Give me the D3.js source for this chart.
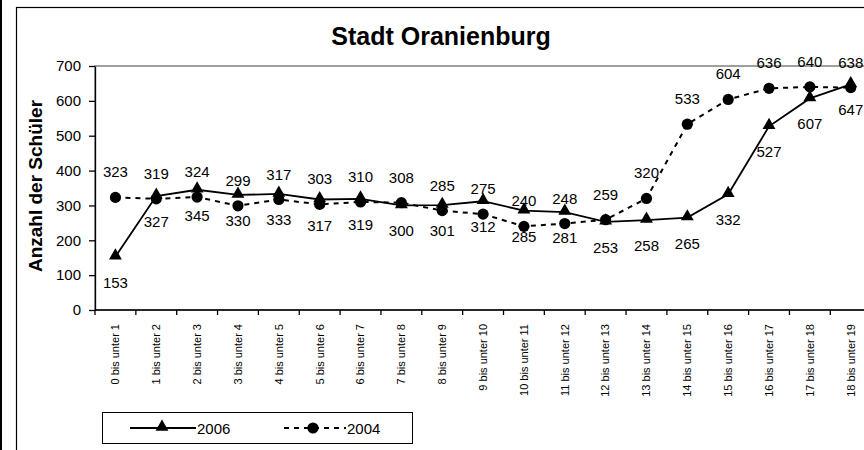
<!DOCTYPE html>
<html>
<head>
<meta charset="utf-8">
<script src="https://cdn.jsdelivr.net/npm/d3@7"></script>
<style>
  body { margin: 0; background: #fff; }
  text { font-family: "Liberation Sans", Arial, sans-serif; }
</style>
</head>
<body>
<script>
// age groups on the x axis
var categories = ["0 bis unter 1", "1 bis unter 2", "2 bis unter 3", "3 bis unter 4",
    "4 bis unter 5", "5 bis unter 6", "6 bis unter 7", "7 bis unter 8", "8 bis unter 9",
    "9 bis unter 10", "10 bis unter 11", "11 bis unter 12", "12 bis unter 13",
    "13 bis unter 14", "14 bis unter 15", "15 bis unter 16", "16 bis unter 17",
    "17 bis unter 18", "18 bis unter 19"];

// number of pupils per age group
var values2006 = [153, 327, 345, 330, 333, 317, 319, 300, 301, 312, 285, 281, 253, 258, 265, 332, 527, 607, 647];
var values2004 = [323, 319, 324, 299, 317, 303, 310, 308, 285, 275, 240, 248, 259, 320, 533, 604, 636, 640, 638];

var yTicks = [0, 100, 200, 300, 400, 500, 600, 700];

var width = 864,
    height = 450;

// plot area (right side runs past the window, like the picture)
var plotLeft = 95, plotTop = 66, plotBottom = 310,
    step = 40.85,
    plotRight = plotLeft + step * categories.length;

var svg = d3.select("body").append("svg")
    .attr("width", width)
    .attr("height", height);

svg.append("rect").attr("width", width).attr("height", height).attr("fill", "#fff");

// black strip at the very left and the chart frame
svg.append("rect").attr("x", 0).attr("y", 0).attr("width", 2).attr("height", height).attr("fill", "#000");
svg.append("rect")
    .attr("x", 16.5).attr("y", 7.5)
    .attr("width", width).attr("height", height)
    .attr("fill", "none").attr("stroke", "#000").attr("stroke-width", 1.2);

var x = d3.scaleBand().domain(categories).range([plotLeft, plotRight]);
var y = d3.scaleLinear().domain([0, 700]).range([plotBottom, plotTop]);

// plot area border (only the top is visible)
svg.append("rect")
    .attr("x", plotLeft).attr("y", plotTop)
    .attr("width", plotRight - plotLeft).attr("height", plotBottom - plotTop)
    .attr("fill", "none").attr("stroke", "#808080").attr("stroke-width", 1.5);

// title
svg.append("text")
    .attr("x", 441).attr("y", 45)
    .attr("text-anchor", "middle")
    .style("font-size", "25px").style("font-weight", "bold")
    .text("Stadt Oranienburg");

// y axis title
svg.append("text")
    .attr("transform", "translate(42,186) rotate(-90)")
    .attr("text-anchor", "middle")
    .style("font-size", "19px").style("font-weight", "bold")
    .text("Anzahl der Schüler");

// y axis
var yAxis = svg.append("g")
    .attr("transform", "translate(" + plotLeft + ",0)")
    .call(d3.axisLeft(y).tickValues(yTicks).tickSize(6).tickPadding(8).tickSizeOuter(0));
yAxis.selectAll("text").style("font-size", "15px").attr("fill", "#000");
yAxis.selectAll("line, path").attr("stroke", "#000").attr("stroke-width", 1.3);

// x axis: ticks sit between the categories
var xAxis = svg.append("g").attr("transform", "translate(0," + plotBottom + ")");
xAxis.append("line")
    .attr("x1", plotLeft).attr("x2", plotRight)
    .attr("stroke", "#000").attr("stroke-width", 1.3);
xAxis.selectAll(".tick")
    .data(categories)
    .enter().append("line")
    .attr("x1", function(d) { return x(d); })
    .attr("x2", function(d) { return x(d); })
    .attr("y1", 0).attr("y2", 5)
    .attr("stroke", "#000").attr("stroke-width", 1.3);
xAxis.selectAll(".lbl")
    .data(categories)
    .enter().append("text")
    .attr("transform", function(d) {
        return "translate(" + (x(d) + x.bandwidth() / 2) + ",14) rotate(-90)";
    })
    .attr("dy", "0.35em")
    .attr("text-anchor", "end")
    .style("font-size", "11px")
    .text(function(d) { return d; });

function cx(i) { return x(categories[i]) + x.bandwidth() / 2; }

var line = d3.line()
    .x(function(d, i) { return cx(i); })
    .y(function(d) { return y(d); });

// 2004: dashed line with circles, labels above
svg.append("path")
    .datum(values2004)
    .attr("d", line)
    .attr("fill", "none").attr("stroke", "#000")
    .attr("stroke-width", 2).attr("stroke-dasharray", "5,5");

// 2006: solid line with triangles, labels below
svg.append("path")
    .datum(values2006)
    .attr("d", line)
    .attr("fill", "none").attr("stroke", "#000").attr("stroke-width", 1.8);

svg.selectAll(".dot2004")
    .data(values2004)
    .enter().append("circle")
    .attr("cx", function(d, i) { return cx(i); })
    .attr("cy", function(d) { return y(d); })
    .attr("r", 5.6)
    .attr("fill", "#000");

var tri = d3.symbol().type(d3.symbolTriangle).size(72);
svg.selectAll(".tri2006")
    .data(values2006)
    .enter().append("path")
    .attr("d", tri)
    .attr("transform", function(d, i) { return "translate(" + cx(i) + "," + (y(d) - 1) + ")"; })
    .attr("fill", "#000");

svg.selectAll(".lbl2004")
    .data(values2004)
    .enter().append("text")
    .attr("x", function(d, i) { return cx(i); })
    .attr("y", function(d) { return y(d) - 20; })
    .attr("text-anchor", "middle")
    .style("font-size", "15px")
    .text(function(d) { return d; });

svg.selectAll(".lbl2006")
    .data(values2006)
    .enter().append("text")
    .attr("x", function(d, i) { return cx(i); })
    .attr("y", function(d) { return y(d) + 31; })
    .attr("text-anchor", "middle")
    .style("font-size", "15px")
    .text(function(d) { return d; });

// legend
var legend = svg.append("g");
legend.append("rect")
    .attr("x", 102.5).attr("y", 412.5)
    .attr("width", 310).attr("height", 31)
    .attr("fill", "#fff").attr("stroke", "#000").attr("stroke-width", 1);

legend.append("line")
    .attr("x1", 130).attr("x2", 196).attr("y1", 428).attr("y2", 428)
    .attr("stroke", "#000").attr("stroke-width", 1.8);
legend.append("path")
    .attr("d", tri)
    .attr("transform", "translate(162,427)");
legend.append("text")
    .attr("x", 197).attr("y", 433.5)
    .style("font-size", "15px")
    .text("2006");

legend.append("line")
    .attr("x1", 284).attr("x2", 346).attr("y1", 428).attr("y2", 428)
    .attr("stroke", "#000").attr("stroke-width", 2).attr("stroke-dasharray", "5,5");
legend.append("circle")
    .attr("cx", 313).attr("cy", 428).attr("r", 5.6);
legend.append("text")
    .attr("x", 347).attr("y", 433.5)
    .style("font-size", "15px")
    .text("2004");
</script>
</body>
</html>
